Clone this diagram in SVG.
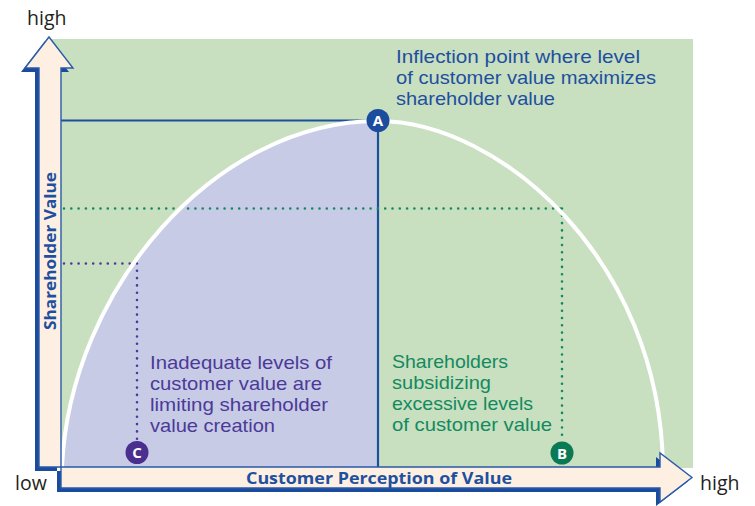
<svg xmlns="http://www.w3.org/2000/svg" width="755" height="506" viewBox="0 0 755 506">
  <style>
    .lbl { font-family: "Open Sans", "Noto Sans", "Liberation Sans", sans-serif; }
    .end { font-size: 19.5px; fill: #231f20; }
    .note { font-family: "Liberation Sans", Arial, sans-serif; font-size: 18.2px; }
    .axis-title { font-size: 16.5px; font-weight: bold; fill: #1f4f9f; }
    .mark { font-size: 15px; font-weight: bold; fill: #ffffff; text-anchor: middle; }
    .shadow { fill: #1b4b9c; }
    .arrow { fill: #fdf0e2; stroke: #2a5aa8; stroke-width: 1.4; stroke-linejoin: miter; }
    .dots { fill: none; stroke-width: 2.6; stroke-linecap: round; stroke-dasharray: 0 7.3; }
  </style>

  <!-- plot field -->
  <rect x="50" y="39" width="643" height="429" fill="#c8dfc0"/>

  <!-- region under the left half of the curve -->
  <path d="M62,467 C70,290 215,121 378,121 L378,467 Z" fill="#c7cbe6"/>

  <g id="connectors">
    <!-- point A level and position -->
    <path d="M61,120.5 H378 M378,120.5 V467" fill="none" stroke="#1d4f9f" stroke-width="2.2"/>
    <!-- point B guides -->
    <path class="dots" d="M64,208.5 H562 M562,208.5 V441" stroke="#138a5e"/>
    <!-- point C guides -->
    <path class="dots" d="M64,263.5 H137 M137,263.5 V441" stroke="#4b3a98"/>
    <!-- value curve -->
    <path d="M62,467 C70,290 215,121 378,121 C500,121 660,260 663,467" fill="none" stroke="#ffffff" stroke-width="4"/>
  </g>

  <!-- axes -->
  <g id="axes">
    <g transform="translate(-4,4)" class="shadow">
      <path d="M49,37 L73,68 L61,68 L61,467 L39,467 L39,68 L25,68 Z"/>
      <path d="M61,467 L660,467 L660,453 L692,477.5 L660,502 L660,488 L61,488 Z"/>
    </g>
    <path class="arrow" d="M49,37 L73,68 L61,68 L61,467 L39,467 L39,68 L25,68 Z"/>
    <path class="arrow" d="M61,467 L660,467 L660,453 L692,477.5 L660,502 L660,488 L61,488 Z"/>
    <text class="lbl axis-title" transform="translate(56,251) rotate(-90)" text-anchor="middle" textLength="158" lengthAdjust="spacingAndGlyphs">Shareholder Value</text>
    <text class="lbl axis-title" x="379" y="484" text-anchor="middle" textLength="266" lengthAdjust="spacingAndGlyphs">Customer Perception of Value</text>
    <text class="lbl end" x="27" y="25">high</text>
    <text class="lbl end" x="15" y="490">low</text>
    <text class="lbl end" x="700" y="490">high</text>
  </g>

  <g id="point-a">
    <circle cx="378" cy="120.5" r="11.5" fill="#1b4c9d"/>
    <text class="lbl mark" x="378" y="126">A</text>
  </g>
  <g id="point-b">
    <circle cx="562" cy="453" r="11.5" fill="#0a7a55"/>
    <text class="lbl mark" x="562" y="458.5">B</text>
  </g>
  <g id="point-c">
    <circle cx="137" cy="452.5" r="11.5" fill="#4a2f8f"/>
    <text class="lbl mark" x="137" y="458">C</text>
  </g>

  <g id="note-a" class="note" fill="#1f4f9f">
    <text x="396" y="63" textLength="244" lengthAdjust="spacingAndGlyphs">Inflection point where level</text>
    <text x="396" y="84" textLength="260" lengthAdjust="spacingAndGlyphs">of customer value maximizes</text>
    <text x="396" y="105" textLength="159" lengthAdjust="spacingAndGlyphs">shareholder value</text>
  </g>
  <g id="note-c" class="note" fill="#4b3a98">
    <text x="150" y="369" textLength="182" lengthAdjust="spacingAndGlyphs">Inadequate levels of</text>
    <text x="150" y="390" textLength="172" lengthAdjust="spacingAndGlyphs">customer value are</text>
    <text x="150" y="411" textLength="178" lengthAdjust="spacingAndGlyphs">limiting shareholder</text>
    <text x="150" y="432" textLength="125" lengthAdjust="spacingAndGlyphs">value creation</text>
  </g>
  <g id="note-b" class="note" fill="#138a5e">
    <text x="392" y="368" textLength="116" lengthAdjust="spacingAndGlyphs">Shareholders</text>
    <text x="392" y="389" textLength="99" lengthAdjust="spacingAndGlyphs">subsidizing</text>
    <text x="392" y="410" textLength="141" lengthAdjust="spacingAndGlyphs">excessive levels</text>
    <text x="392" y="431" textLength="160" lengthAdjust="spacingAndGlyphs">of customer value</text>
  </g>
</svg>
